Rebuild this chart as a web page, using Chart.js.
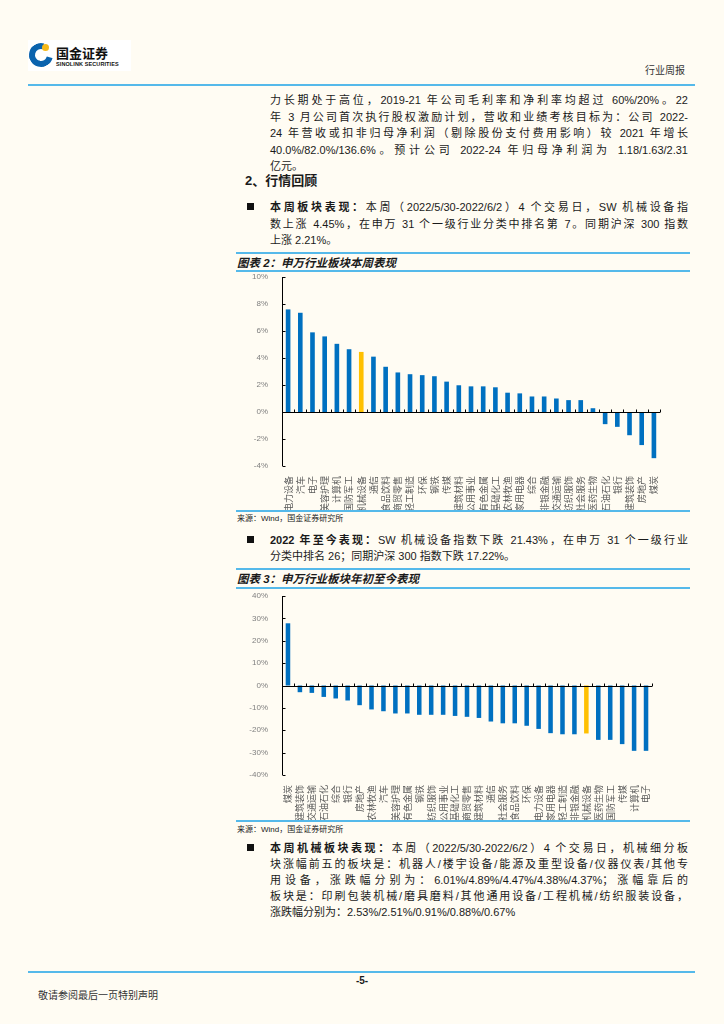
<!DOCTYPE html>
<html>
<head>
<meta charset="utf-8">
<script src="https://cdn.jsdelivr.net/npm/chart.js@4.4.0/dist/chart.umd.min.js"></script>
<style>
  html, body { margin: 0; padding: 0; }
  body {
    width: 724px; height: 1024px; position: relative; overflow: hidden;
    background: #fffcf3; color: #1a1a1a;
    font-family: "Liberation Sans", "Noto Sans CJK SC", sans-serif;
  }
  .abs { position: absolute; }
  .hline { position: absolute; height: 2px; background: #55b9ea; }
  .para { position: absolute; left: 270px; width: 418px; font-size: 11px; line-height: 16px; }
  .para div { text-align: justify; text-align-last: justify; white-space: nowrap; }
  .para div.last { text-align-last: left; }
  .bullet { position: absolute; left: 247px; width: 7px; height: 7px; background: #111; }
  .ctitle { position: absolute; left: 237px; font-size: 11.5px; font-weight: bold; font-style: italic; }
  .src { position: absolute; left: 237px; font-size: 8px; color: #222; }
</style>
</head>
<body>

<!-- header -->
<div class="abs" style="left:28px;top:40px;width:103px;height:31px;background:#fff;"></div>
<div class="abs" style="left:29px;top:43px;width:12px;height:12px;border:6px solid #0a63ae;border-right-color:transparent;border-radius:50%;transform:rotate(-30deg);"></div>
<div class="abs" style="left:42px;top:44px;width:7px;height:7px;background:#f6b91a;border-radius:50%;"></div>
<div class="abs" style="left:56px;top:43px;font-size:13px;font-weight:bold;font-family:'Noto Sans CJK SC';color:#111;">国金证券</div>
<div class="abs" style="left:56px;top:61px;font-size:5.5px;font-weight:bold;color:#111;letter-spacing:0.1px;">SINOLINK SECURITIES</div>
<div class="abs" style="left:645px;top:62px;font-size:10px;color:#333;">行业周报</div>
<div class="hline" style="left:28px;top:84px;width:667px;"></div>

<!-- paragraph 1 -->
<div class="para" style="top:92px;line-height:16.5px;">
  <div>力长期处于高位，2019-21 年公司毛利率和净利率均超过 60%/20%。22</div>
  <div>年 3 月公司首次执行股权激励计划，营收和业绩考核目标为：公司 2022-</div>
  <div>24 年营收或扣非归母净利润（剔除股份支付费用影响）较 2021 年增长</div>
  <div>40.0%/82.0%/136.6%。预计公司 2022-24 年归母净利润为 1.18/1.63/2.31</div>
  <div class="last">亿元。</div>
</div>

<div class="abs" style="left:245px;top:170px;font-size:13px;font-weight:bold;">2、行情回顾</div>

<div class="bullet" style="top:203px;"></div>
<div class="para" style="top:199px;line-height:16.5px;">
  <div><b>本周板块表现：</b>本周（2022/5/30-2022/6/2）4 个交易日，SW 机械设备指</div>
  <div>数上涨 4.45%，在申万 31 个一级行业分类中排名第 7。同期沪深 300 指数</div>
  <div class="last">上涨 2.21%。</div>
</div>

<!-- chart 2 -->
<div class="hline" style="left:236px;top:252px;width:454px;"></div>
<div class="ctitle" style="top:254px;">图表 2：申万行业板块本周表现</div>
<div class="hline" style="left:236px;top:270px;width:454px;"></div>
<div class="abs" style="left:230px;top:272px;width:460px;height:238px;"><canvas id="weekChart"></canvas></div>
<div class="hline" style="left:236px;top:510px;width:454px;"></div>
<div class="src" style="top:512px;">来源：Wind，国金证券研究所</div>

<div class="bullet" style="top:536px;"></div>
<div class="para" style="top:532px;">
  <div><b>2022 年至今表现：</b>SW 机械设备指数下跌 21.43%，在申万 31 个一级行业</div>
  <div class="last">分类中排名 26；同期沪深 300 指数下跌 17.22%。</div>
</div>

<!-- chart 3 -->
<div class="hline" style="left:236px;top:568px;width:454px;"></div>
<div class="ctitle" style="top:570px;">图表 3：申万行业板块年初至今表现</div>
<div class="hline" style="left:236px;top:587px;width:454px;"></div>
<div class="abs" style="left:230px;top:589px;width:460px;height:231px;"><canvas id="ytdChart"></canvas></div>
<div class="hline" style="left:236px;top:820px;width:454px;"></div>
<div class="src" style="top:823px;">来源：Wind，国金证券研究所</div>

<div class="bullet" style="top:844px;"></div>
<div class="para" style="top:840px;">
  <div><b>本周机械板块表现：</b>本周（2022/5/30-2022/6/2）4 个交易日，机械细分板</div>
  <div>块涨幅前五的板块是：机器人/楼宇设备/能源及重型设备/仪器仪表/其他专</div>
  <div>用设备，涨跌幅分别为：6.01%/4.89%/4.47%/4.38%/4.37%；涨幅靠后的</div>
  <div>板块是：印刷包装机械/磨具磨料/其他通用设备/工程机械/纺织服装设备，</div>
  <div class="last">涨跌幅分别为：2.53%/2.51%/0.91%/0.88%/0.67%</div>
</div>

<!-- footer -->
<div class="hline" style="left:28px;top:971px;width:667px;"></div>
<div class="abs" style="left:0;width:724px;top:975px;text-align:center;font-size:10px;font-weight:bold;">-5-</div>
<div class="abs" style="left:38px;top:987px;font-size:10px;color:#333;">敬请参阅最后一页特别声明</div>

<script>
// 本周表现
const weekCats = ["电力设备", "汽车", "电子", "美容护理", "计算机", "国防军工", "机械设备", "通信",
  "食品饮料", "商贸零售", "轻工制造", "环保", "钢铁", "传媒", "建筑材料", "公用事业", "有色金属",
  "基础化工", "农林牧渔", "家用电器", "综合", "非银金融", "交通运输", "纺织服饰", "社会服务",
  "医药生物", "石油石化", "银行", "建筑装饰", "房地产", "煤炭"];
const weekVals = [7.6, 7.35, 5.9, 5.6, 5.05, 4.65, 4.45, 4.1, 3.35, 2.93, 2.8, 2.73, 2.65, 2.25,
  1.98, 1.9, 1.9, 1.83, 1.43, 1.38, 1.15, 1.15, 1.0, 0.88, 0.88, 0.28, -0.9, -1.1, -1.72, -2.45, -3.42];

// 年初至今表现
const ytdCats = ["煤炭", "建筑装饰", "交通运输", "石油石化", "综合", "银行", "房地产", "农林牧渔",
  "汽车", "美容护理", "有色金属", "钢铁", "纺织服饰", "公用事业", "基础化工", "商贸零售", "建筑材料",
  "通信", "社会服务", "食品饮料", "环保", "电力设备", "家用电器", "轻工制造", "非银金融", "机械设备",
  "医药生物", "国防军工", "传媒", "计算机", "电子"];
const ytdVals = [27.8, -3.0, -3.3, -5.1, -5.8, -6.7, -8.8, -10.7, -11.5, -12.5, -12.5, -13.1, -13.1,
  -13.1, -13.6, -14.0, -14.5, -16.1, -16.9, -16.9, -18.0, -19.4, -21.3, -21.8, -21.8, -21.43,
  -24.3, -24.3, -26.2, -29.2, -29.2];

const weekRange = [-4, 10, 2];
const ytdRange = [-40, 40, 10];
const highlight = "机械设备";

// y axis line with inward ticks, zero line with small ticks between categories
const axisLines = {
  id: "axisLines",
  afterDatasetsDraw(chart) {
    const { ctx, chartArea, scales } = chart;
    const x = scales.x, y = scales.y;
    const y0 = Math.round(y.getPixelForValue(0)) + 0.5;
    const left = Math.round(chartArea.left) + 0.5;
    const n = x.ticks.length;
    const half = (chartArea.right - chartArea.left) / n / 2;
    ctx.save();
    ctx.strokeStyle = "#000";
    ctx.lineWidth = 1;
    ctx.beginPath();
    ctx.moveTo(left, chartArea.top);
    ctx.lineTo(left, chartArea.bottom);
    y.ticks.forEach(function (t) {
      const py = Math.round(y.getPixelForValue(t.value)) + 0.5;
      ctx.moveTo(left, py);
      ctx.lineTo(left + 3, py);
    });
    ctx.moveTo(left, y0);
    ctx.lineTo(chartArea.right, y0);
    for (let i = 0; i < n; i++) {
      const px = Math.round(x.getPixelForValue(i) + half) + 0.5;
      ctx.moveTo(px, y0);
      ctx.lineTo(px, y0 - 3);
    }
    ctx.stroke();
    ctx.restore();
  }
};

function makeChart(id, cats, vals, range, padTop, padRight, xHeight) {
  return new Chart(document.getElementById(id), {
    type: "bar",
    data: {
      labels: cats,
      datasets: [{
        data: vals,
        backgroundColor: cats.map(function (c) { return c == highlight ? "#ffc000" : "#0070c0"; }),
        barPercentage: 0.38,
        categoryPercentage: 1
      }]
    },
    options: {
      responsive: true,
      maintainAspectRatio: false,
      animation: false,
      layout: { padding: { top: padTop, right: padRight, left: 0, bottom: 0 } },
      plugins: { legend: { display: false }, tooltip: { enabled: false } },
      scales: {
        x: {
          grid: { display: false },
          border: { display: false },
          ticks: {
            autoSkip: false, maxRotation: 90, minRotation: 90, padding: 2,
            color: "#595959", font: { size: 9, family: "Noto Sans CJK SC" }
          },
          afterFit: function (s) { s.height = xHeight; }
        },
        y: {
          min: range[0], max: range[1],
          grid: { display: false },
          border: { display: false },
          ticks: {
            stepSize: range[2], padding: 6, color: "#7f7f7f",
            font: { size: 8, family: "Liberation Sans" },
            callback: function (v) { return v + "%"; }
          },
          afterFit: function (s) {
            s.width = 52;
            s.paddingTop = 0;
            s.paddingBottom = 0;
          }
        }
      }
    },
    plugins: [axisLines]
  });
}

Chart.defaults.font.family = "Liberation Sans";
makeChart("weekChart", weekCats, weekVals, weekRange, 5, 30, 44);
makeChart("ytdChart", ytdCats, ytdVals, ytdRange, 7, 38, 45);
</script>
</body>
</html>
